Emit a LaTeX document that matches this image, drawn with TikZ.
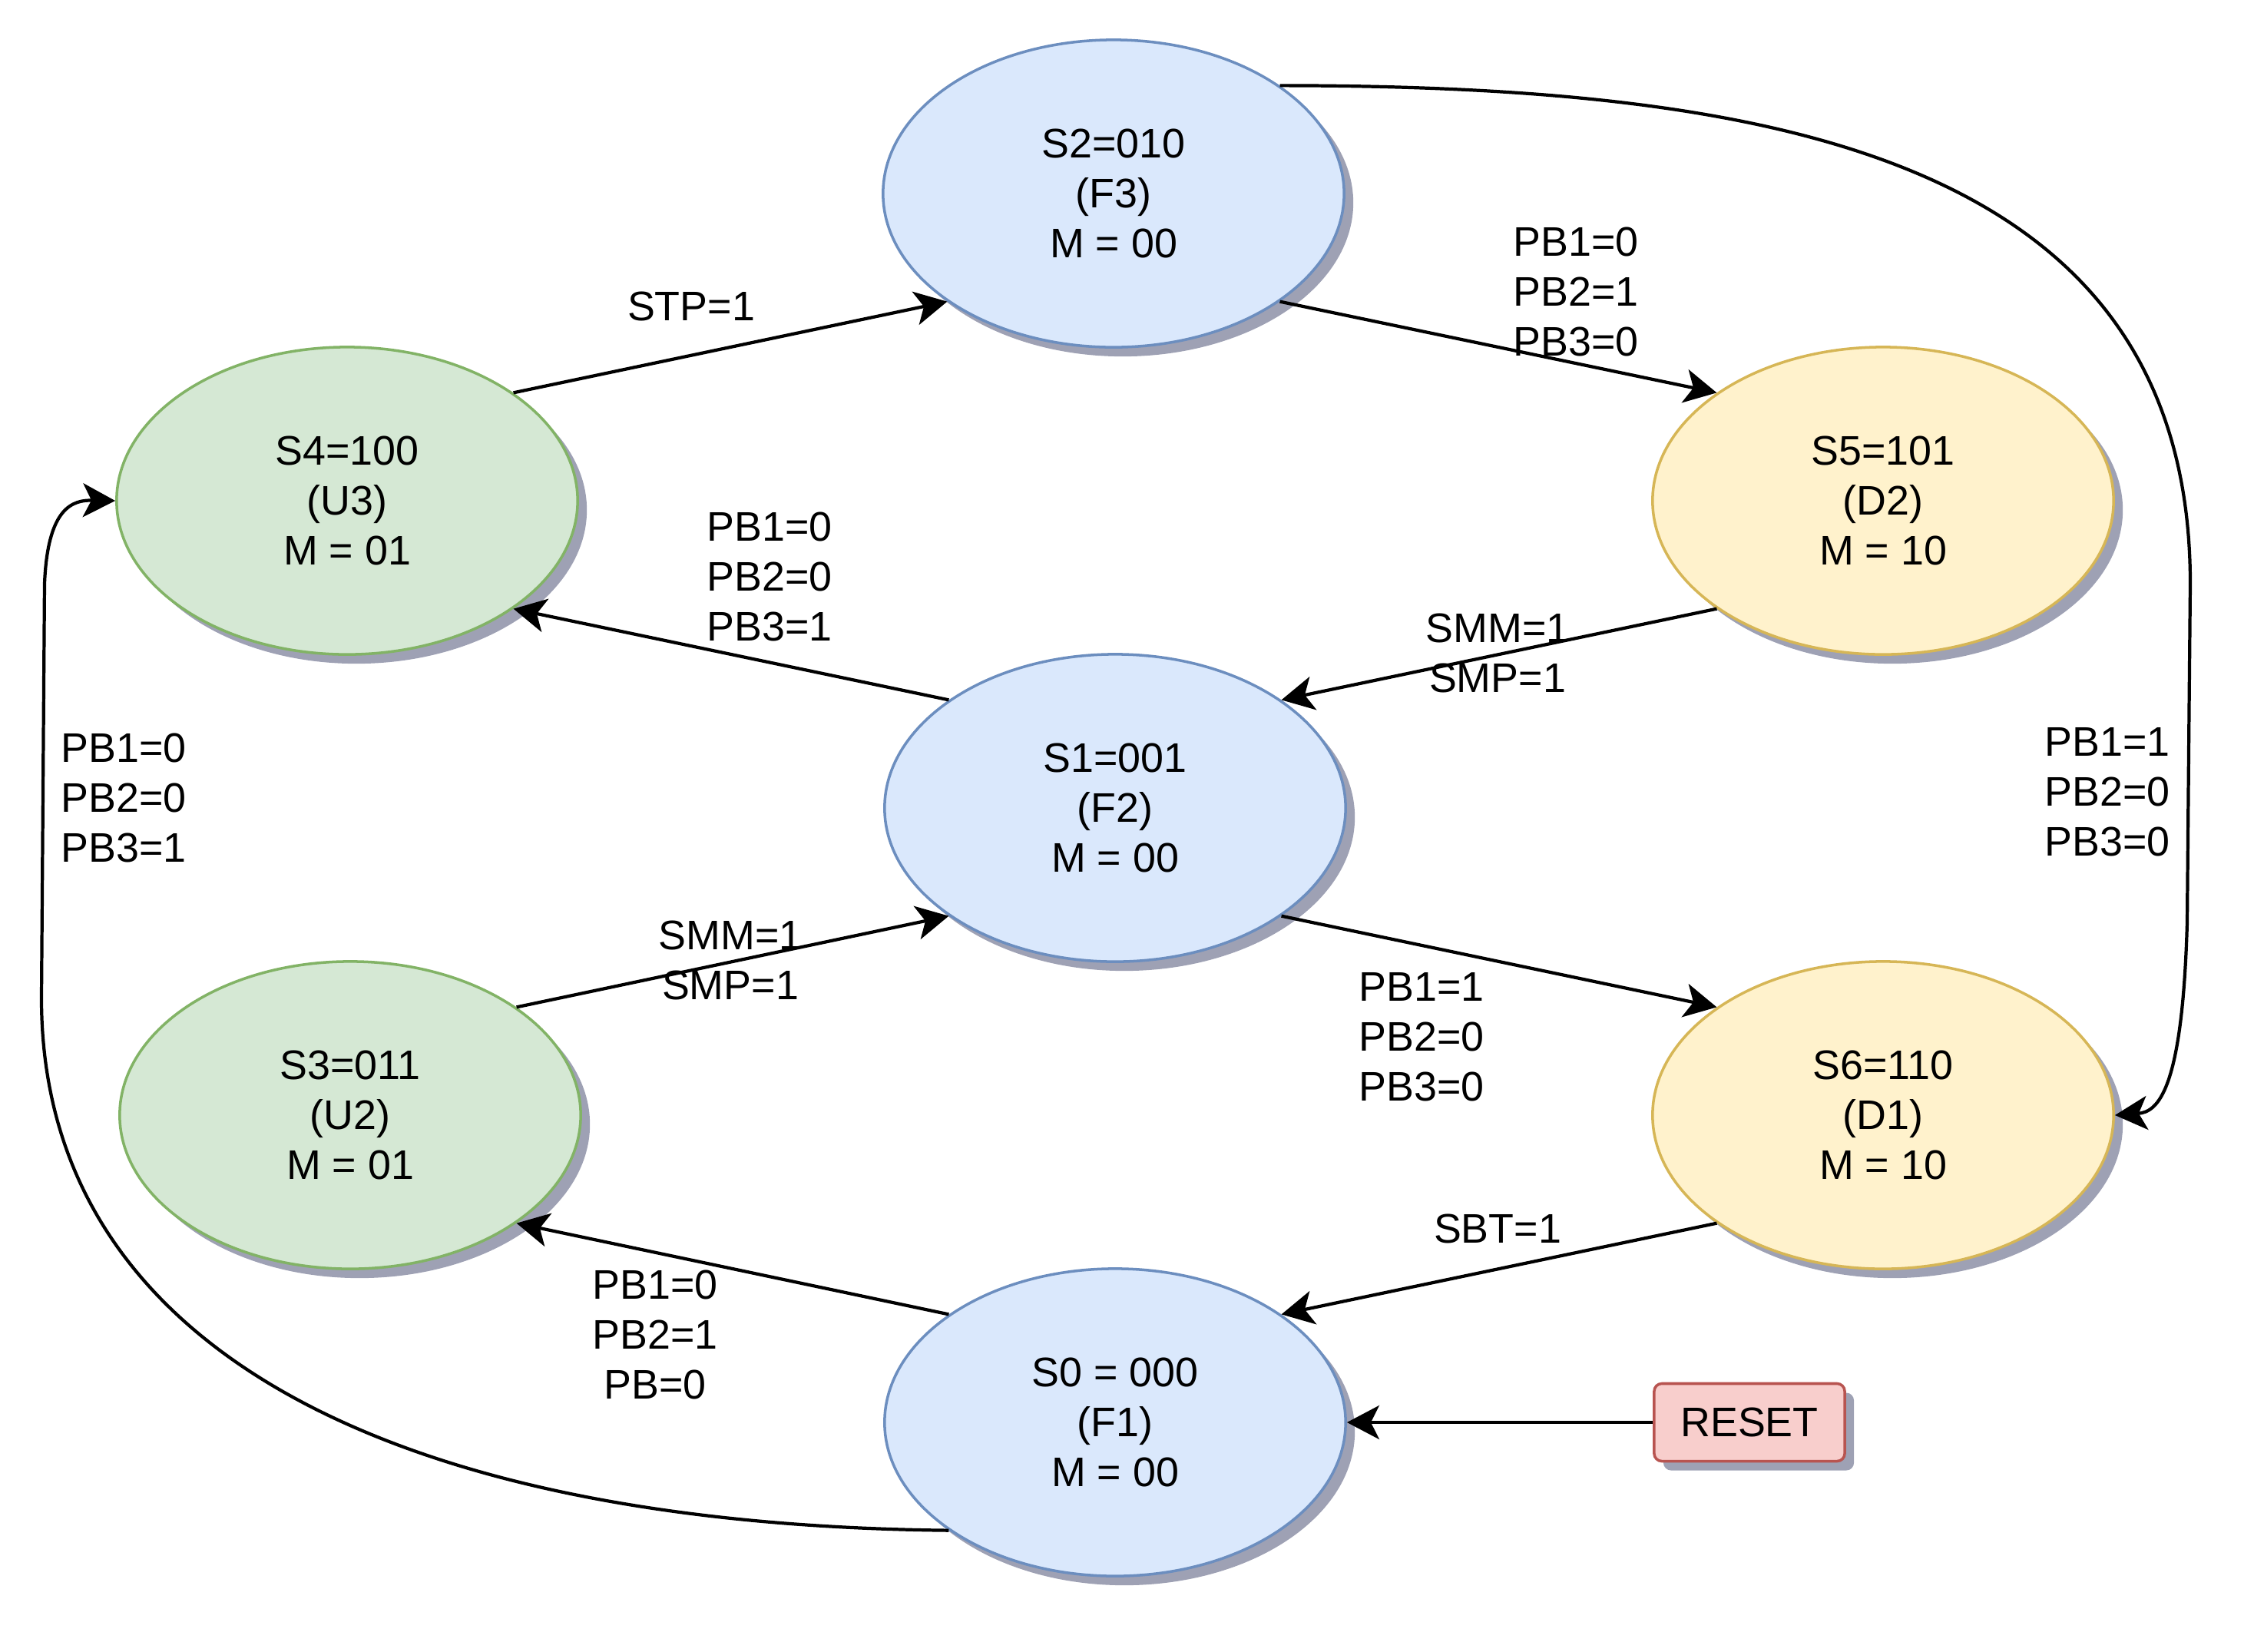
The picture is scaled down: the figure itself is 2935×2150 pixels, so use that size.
\documentclass[tikz,border=0pt]{standalone}
\usepackage{fontspec}
\setmainfont{Liberation Sans}
\usetikzlibrary{shapes.geometric,arrows.meta,shadows}
\definecolor{bluefill}{HTML}{DAE8FC}
\definecolor{bluedraw}{HTML}{6C8EBF}
\definecolor{greenfill}{HTML}{D5E8D4}
\definecolor{greendraw}{HTML}{82B366}
\definecolor{yellowfill}{HTML}{FFF2CC}
\definecolor{yellowdraw}{HTML}{D6B656}
\definecolor{redfill}{HTML}{F8CECC}
\definecolor{reddraw}{HTML}{B85450}
\definecolor{shadowc}{RGB}{148,151,172}
\begin{document}
\begin{tikzpicture}[x=0.01cm,y=-0.01cm,
  txt/.style={font=\fontsize{15.3}{18.5}\selectfont, align=center},
  shad/.style={drop shadow={shadow xshift=0.12cm, shadow yshift=-0.12cm, fill=shadowc, opacity=0.9}},
  state/.style={ellipse, minimum width=6cm, minimum height=4cm, inner sep=0pt, line width=1pt, txt, shad},
  bluest/.style={state, fill=bluefill, draw=bluedraw},
  greenst/.style={state, fill=greenfill, draw=greendraw},
  yellowst/.style={state, fill=yellowfill, draw=yellowdraw},
  resetbox/.style={rectangle, rounded corners=0.1cm, minimum width=2.48cm, minimum height=1.01cm, inner sep=0pt, line width=1pt, fill=redfill, draw=reddraw, txt, shad},
  conn/.style={line width=1.2pt, -{Stealth[length=0.42cm,width=0.44cm,inset=0.11cm]}},
  lbl/.style={txt, inner sep=0pt}
]
\useasboundingbox (0,0) rectangle (2935,2150);

\node[bluest] (s2) at (1450,252) {S2=010\\(F3)\\M = 00};
\node[greenst] (s4) at (452,652) {S4=100\\(U3)\\M = 01};
\node[yellowst] (s5) at (2452,652) {S5=101\\(D2)\\M = 10};
\node[bluest] (s1) at (1452,1052) {S1=001\\(F2)\\M = 00};
\node[greenst] (s3) at (456,1452) {S3=011\\(U2)\\M = 01};
\node[yellowst] (s6) at (2452,1452) {S6=110\\(D1)\\M = 10};
\node[bluest] (s0) at (1452,1852) {S0 = 000\\(F1)\\M = 00};
\node[resetbox] (reset) at (2278,1852) {RESET};

\draw[conn] (s4.33) -- (s2.213);
\draw[conn] (s2.327) -- (s5.147);
\draw[conn] (s1.147) -- (s4.327);
\draw[conn] (s5.213) -- (s1.33);
\draw[conn] (s3.33) -- (s1.213);
\draw[conn] (s1.327) -- (s6.147);
\draw[conn] (s6.213) -- (s0.33);
\draw[conn] (s0.147) -- (s3.327);
\draw[conn] (reset.west) -- (s0.east);
\draw[conn] (s2.33) .. controls (2300,112) and (2852,200) .. (2852,760) -- (2848,1200) .. controls (2842,1420) and (2810,1448) .. (s6.east);
\draw[conn] (s0.213) .. controls (500,1985) and (54,1750) .. (54,1300) -- (58,760) .. controls (62,660) and (95,651) .. (s4.west);

\node[lbl] (lstp) at (900,399) {STP=1};
\node[lbl] (l25) at (2052,380) {PB1=0\\PB2=1\\PB3=0};
\node[lbl] (l14) at (1002,751) {PB1=0\\PB2=0\\PB3=1};
\node[lbl] (l51) at (1950,850) {SMM=1\\SMP=1};
\node[lbl] (l31) at (951,1250) {SMM=1\\SMP=1};
\node[lbl] (l16) at (1851,1350) {PB1=1\\PB2=0\\PB3=0};
\node[lbl] (l60) at (1950,1600) {SBT=1};
\node[lbl] (l03) at (853,1738) {PB1=0\\PB2=1\\PB=0};
\node[lbl] (l26) at (2744,1031) {PB1=1\\PB2=0\\PB3=0};
\node[lbl] (l04) at (161,1039) {PB1=0\\PB2=0\\PB3=1};
\end{tikzpicture}
\end{document}
